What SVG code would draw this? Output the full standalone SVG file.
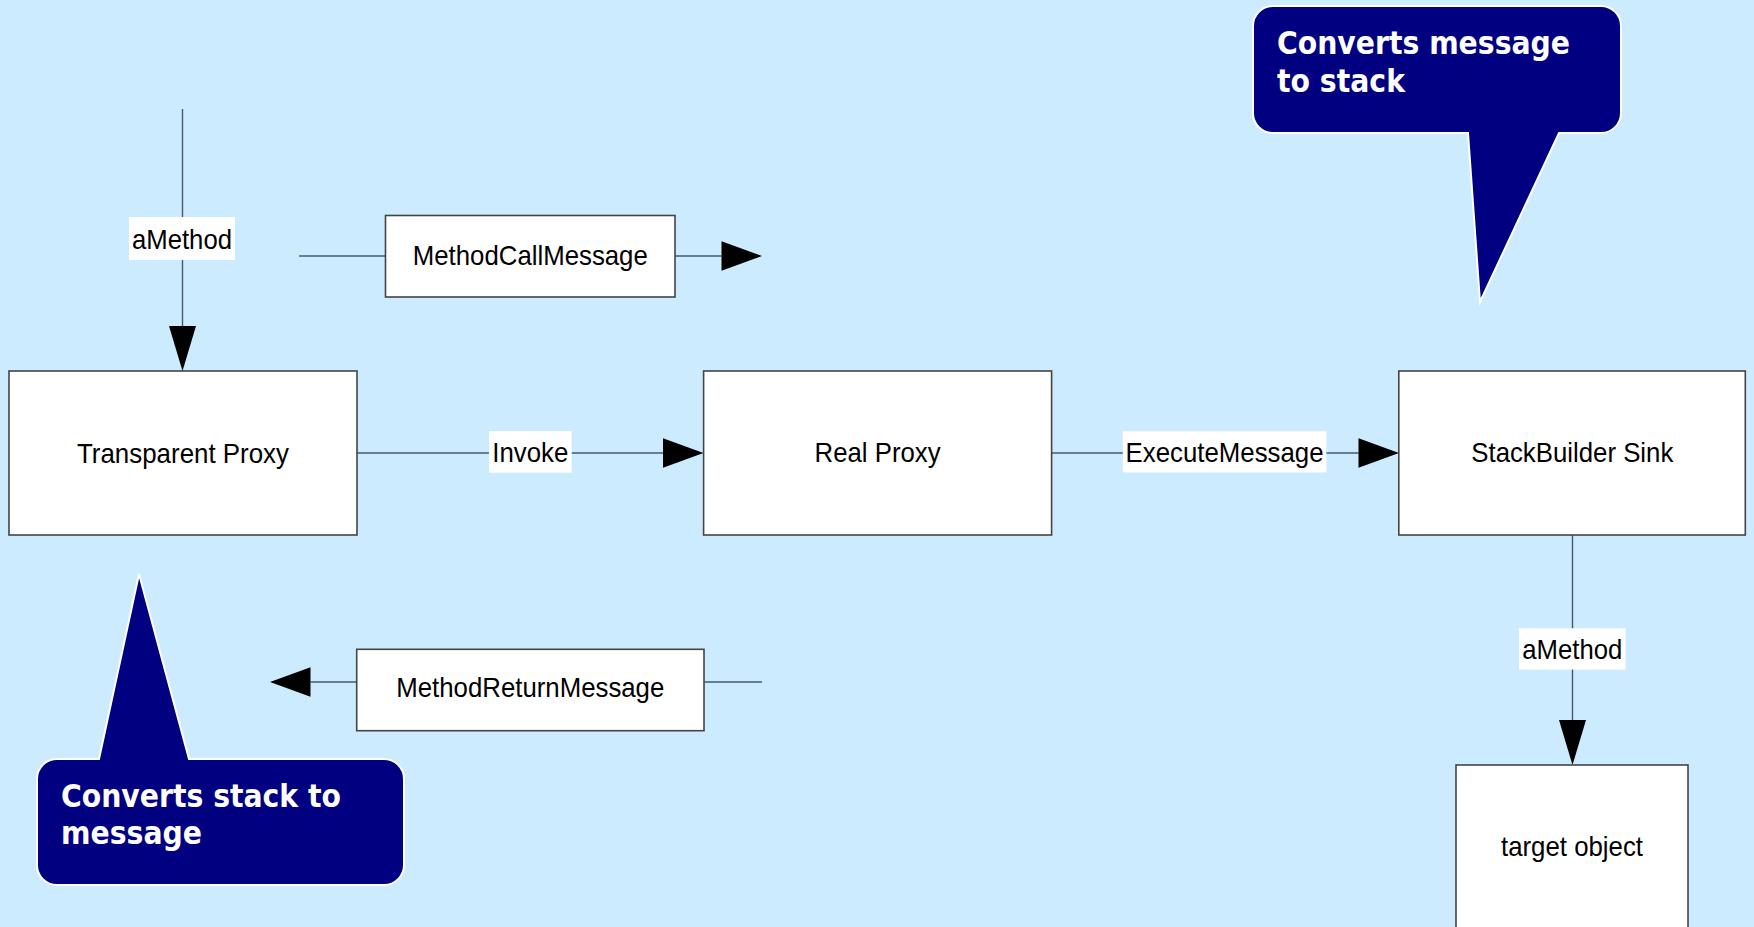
<svg xmlns="http://www.w3.org/2000/svg" width="1754" height="927" viewBox="0 0 1754 927">
  <defs>
    <style>
      .box { fill: #ffffff; stroke: #444444; stroke-width: 1.6; }
      .lbl-bg { fill: #ffffff; }
      .txt { font-family: "Liberation Sans", Arial, sans-serif; font-size: 28px; fill: #000000; text-anchor: middle; }
      .wire { fill: none; stroke: #4a5866; stroke-width: 1.4; }
      .wire-h { marker-end: url(#head-h); }
      .wire-v { marker-end: url(#head-v); }
      .bubble { fill: #000080; stroke: #ffffff; stroke-width: 2; }
      .btxt { font-family: "DejaVu Sans", Verdana, sans-serif; font-weight: bold; font-size: 31.5px; fill: #ffffff; }
    </style>
    <!-- arrowheads start at the end of the line and point forward -->
    <marker id="head-h" markerUnits="userSpaceOnUse" markerWidth="41" markerHeight="30" refX="0" refY="14.7" orient="auto" overflow="visible">
      <path d="M0,0 L40.5,14.7 L0,29.4 Z" fill="#000000"/>
    </marker>
    <marker id="head-v" markerUnits="userSpaceOnUse" markerWidth="45" markerHeight="28" refX="0" refY="13.5" orient="auto" overflow="visible">
      <path d="M0,0 L45,13.5 L0,27 Z" fill="#000000"/>
    </marker>
  </defs>

  <rect width="1754" height="927" fill="#ccebff"/>

  <!-- connectors -->
  <g id="connectors">
    <!-- incoming call -->
    <line class="wire wire-v" x1="182.5" y1="109" x2="182.5" y2="326"/>
    <!-- call message flow -->
    <line class="wire" x1="299" y1="256" x2="385.5" y2="256"/>
    <line class="wire wire-h" x1="675" y1="256" x2="721.5" y2="256"/>
    <!-- Transparent Proxy to Real Proxy -->
    <line class="wire wire-h" x1="357" y1="453" x2="663" y2="453"/>
    <!-- Real Proxy to StackBuilder Sink -->
    <line class="wire wire-h" x1="1051.6" y1="453" x2="1358.5" y2="453"/>
    <!-- StackBuilder Sink to target object -->
    <line class="wire wire-v" x1="1572.5" y1="535" x2="1572.5" y2="720"/>
    <!-- return message flow -->
    <line class="wire" x1="762" y1="682" x2="704" y2="682"/>
    <line class="wire wire-h" x1="356.7" y1="682" x2="310.5" y2="682"/>

    <!-- connector labels -->
    <g id="lbl-amethod-in">
      <rect class="lbl-bg" x="129" y="217" width="106" height="43"/>
      <text class="txt" x="182" y="248.5" textLength="100" lengthAdjust="spacingAndGlyphs">aMethod</text>
    </g>
    <g id="lbl-invoke">
      <rect class="lbl-bg" x="489" y="431" width="82.7" height="41.7"/>
      <text class="txt" x="530.3" y="461.7" textLength="76" lengthAdjust="spacingAndGlyphs">Invoke</text>
    </g>
    <g id="lbl-execute">
      <rect class="lbl-bg" x="1122.8" y="431.2" width="203.6" height="41.2"/>
      <text class="txt" x="1224.6" y="461.7" textLength="198" lengthAdjust="spacingAndGlyphs">ExecuteMessage</text>
    </g>
    <g id="lbl-amethod-out">
      <rect class="lbl-bg" x="1519" y="628.3" width="106.6" height="41.2"/>
      <text class="txt" x="1572.3" y="659" textLength="100" lengthAdjust="spacingAndGlyphs">aMethod</text>
    </g>
  </g>

  <!-- message boxes -->
  <g id="method-call-message">
    <rect class="box" x="385.5" y="215.5" width="289.5" height="81.5"/>
    <text class="txt" x="530.3" y="264.7" textLength="235" lengthAdjust="spacingAndGlyphs">MethodCallMessage</text>
  </g>
  <g id="method-return-message">
    <rect class="box" x="356.7" y="649.3" width="347.3" height="81.4"/>
    <text class="txt" x="530.3" y="697.3" textLength="268" lengthAdjust="spacingAndGlyphs">MethodReturnMessage</text>
  </g>

  <!-- main nodes -->
  <g id="transparent-proxy">
    <rect class="box" x="9" y="371" width="348" height="164"/>
    <text class="txt" x="183" y="462.5" textLength="212" lengthAdjust="spacingAndGlyphs">Transparent Proxy</text>
  </g>
  <g id="real-proxy">
    <rect class="box" x="703.6" y="371" width="348" height="164"/>
    <text class="txt" x="877.6" y="462" textLength="126" lengthAdjust="spacingAndGlyphs">Real Proxy</text>
  </g>
  <g id="stackbuilder-sink">
    <rect class="box" x="1398.8" y="371" width="346.5" height="164"/>
    <text class="txt" x="1572.3" y="462" textLength="202" lengthAdjust="spacingAndGlyphs">StackBuilder Sink</text>
  </g>
  <g id="target-object">
    <rect class="box" x="1456" y="765" width="232" height="164"/>
    <text class="txt" x="1572" y="856" textLength="142" lengthAdjust="spacingAndGlyphs">target object</text>
  </g>

  <!-- callouts -->
  <g id="callout-to-stack">
    <path class="bubble" d="M1273,6 H1601 A20,20 0 0 1 1621,26 V113 A20,20 0 0 1 1601,133 H1559 L1480,302 L1468,133 H1273 A20,20 0 0 1 1253,113 V26 A20,20 0 0 1 1273,6 Z"/>
    <text class="btxt" x="1277" y="54" textLength="293" lengthAdjust="spacingAndGlyphs">Converts message</text>
    <text class="btxt" x="1277" y="92" textLength="128" lengthAdjust="spacingAndGlyphs">to stack</text>
  </g>
  <g id="callout-to-message">
    <path class="bubble" d="M57,759 H99 L139,574 L189,759 H384 A20,20 0 0 1 404,779 V865 A20,20 0 0 1 384,885 H57 A20,20 0 0 1 37,865 V779 A20,20 0 0 1 57,759 Z"/>
    <text class="btxt" x="61" y="807" textLength="280" lengthAdjust="spacingAndGlyphs">Converts stack to</text>
    <text class="btxt" x="61" y="844" textLength="141" lengthAdjust="spacingAndGlyphs">message</text>
  </g>
</svg>
